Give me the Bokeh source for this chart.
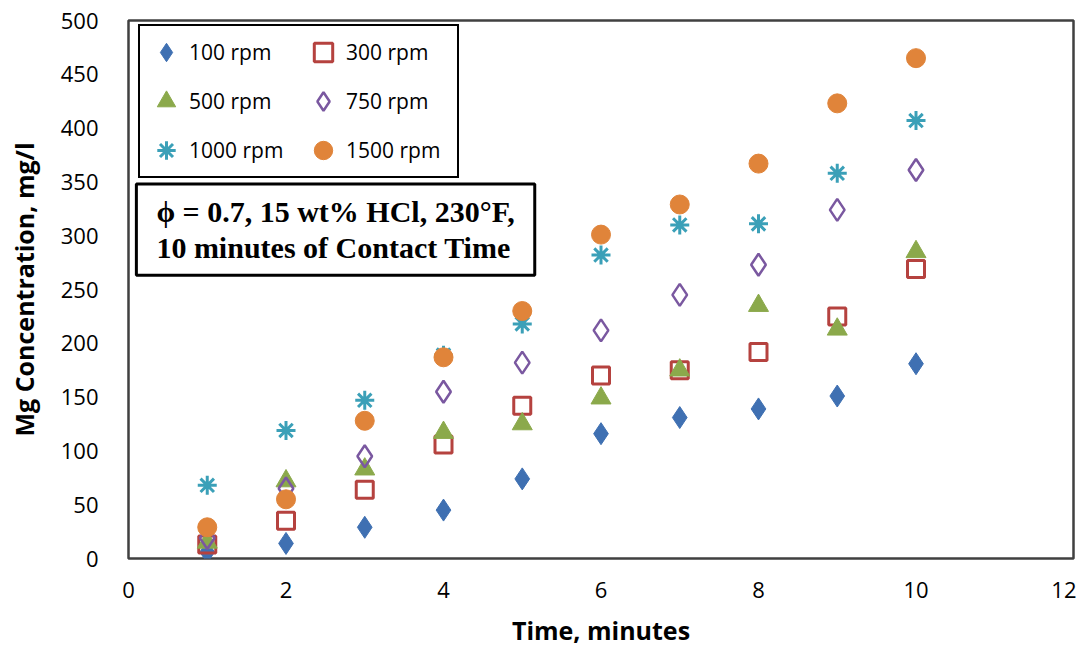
from bokeh.plotting import figure
from bokeh.models import Legend, LegendItem, Label, FixedTicker, Range1d
from bokeh.embed import file_html
from bokeh.resources import INLINE

time_min = [1, 2, 3, 4, 5, 6, 7, 8, 9, 10]
rpm100 = [6, 14, 29, 45, 74, 116, 131, 139, 151, 181]
rpm300 = [13, 35, 64, 106, 142, 170, 175, 192, 225, 269]
rpm500 = [15, 72, 83, 117, 125, 149, 175, 235, 213, 285]
rpm750 = [19, 65, 95, 155, 182, 212, 245, 273, 324, 361]
rpm1000 = [68, 119, 147, 189, 218, 282, 310, 311, 358, 407]
rpm1500 = [29, 55, 128, 187, 230, 301, 329, 367, 423, 465]

x_ticks = [0, 2, 4, 6, 8, 10, 12]
y_ticks = [0, 50, 100, 150, 200, 250, 300, 350, 400, 450, 500]

p = figure(width=1076, height=650, output_backend="svg", toolbar_location=None,
           x_range=Range1d(0, 12), y_range=Range1d(0, 500),
           min_border_left=128, min_border_right=3, min_border_top=20, min_border_bottom=92)
p.background_fill_color = "white"
p.border_fill_color = "white"
p.outline_line_color = "#404040"
p.outline_line_width = 2.5
p.xgrid.visible = False
p.ygrid.visible = False

tick_font = "Open Sans"
for ax in (p.xaxis[0], p.yaxis[0]):
    ax.axis_line_color = None
    ax.major_tick_line_color = None
    ax.minor_tick_line_color = None
    ax.major_label_text_font = tick_font
    ax.major_label_text_font_size = "22px"
    ax.major_label_text_color = "black"
    ax.axis_label_text_font = "Open Sans"
    ax.axis_label_text_font_style = "bold"
    ax.axis_label_text_font_size = "25px"
    ax.axis_label_text_color = "black"

p.xaxis.ticker = FixedTicker(ticks=x_ticks)
p.yaxis.ticker = FixedTicker(ticks=y_ticks)
p.xaxis.major_label_standoff = 17
p.yaxis.major_label_standoff = 24
p.xaxis.axis_label = "Time, minutes"
p.yaxis.axis_label = "Mg Concentration, mg/l"
p.xaxis.axis_label_standoff = 12
p.yaxis.axis_label_standoff = 17

c_blue = "#3F70B2"
c_red = "#B5423F"
c_green = "#8BA94B"
c_purple = "#7A58A0"
c_teal = "#3BA0B8"
c_orange = "#E0843A"

r100 = p.scatter(time_min, rpm100, marker="diamond", size=22, fill_color=c_blue, line_color=c_blue)
r300 = p.scatter(time_min, rpm300, marker="square", size=17, fill_color=None, line_color=c_red, line_width=3)
r500 = p.scatter(time_min, rpm500, marker="triangle", size=20, fill_color=c_green, line_color=c_green)
r750 = p.scatter(time_min, rpm750, marker="diamond", size=22, fill_color=None, line_color=c_purple, line_width=2.5)
r1000 = p.scatter(time_min, rpm1000, marker="asterisk", size=19, line_color=c_teal, line_width=3)
r1500 = p.scatter(time_min, rpm1500, marker="circle", size=19, fill_color=c_orange, line_color=c_orange)

legend = Legend(items=[
    LegendItem(label="100 rpm", renderers=[r100]),
    LegendItem(label="500 rpm", renderers=[r500]),
    LegendItem(label="1000 rpm", renderers=[r1000]),
    LegendItem(label="300 rpm", renderers=[r300]),
    LegendItem(label="750 rpm", renderers=[r750]),
    LegendItem(label="1500 rpm", renderers=[r1500]),
], ncols=2, location=(10, 380))
legend.border_line_color = "black"
legend.border_line_alpha = 1
legend.border_line_width = 2
legend.background_fill_alpha = 1
legend.label_text_font = "Open Sans"
legend.label_text_font_size = "21px"
legend.label_text_color = "black"
legend.glyph_width = 46
legend.glyph_height = 46
legend.label_height = 46
legend.label_width = 108
legend.label_standoff = 0
legend.spacing = 3
legend.padding = 3
legend.margin = 0
p.add_layout(legend, "center")

note = Label(x=0.10, y=348, text="ϕ = 0.7, 15 wt% HCl, 230°F,\n10 minutes of Contact Time",
             anchor="top_left", text_font="Liberation Serif", text_font_style="bold",
             text_font_size="30px", text_color="black", text_line_height=1.1,
             border_line_color="black", border_line_width=3,
             background_fill_color="white", padding=(20, 11))
p.add_layout(note)

open("out.html", "w").write(file_html(p, INLINE))
